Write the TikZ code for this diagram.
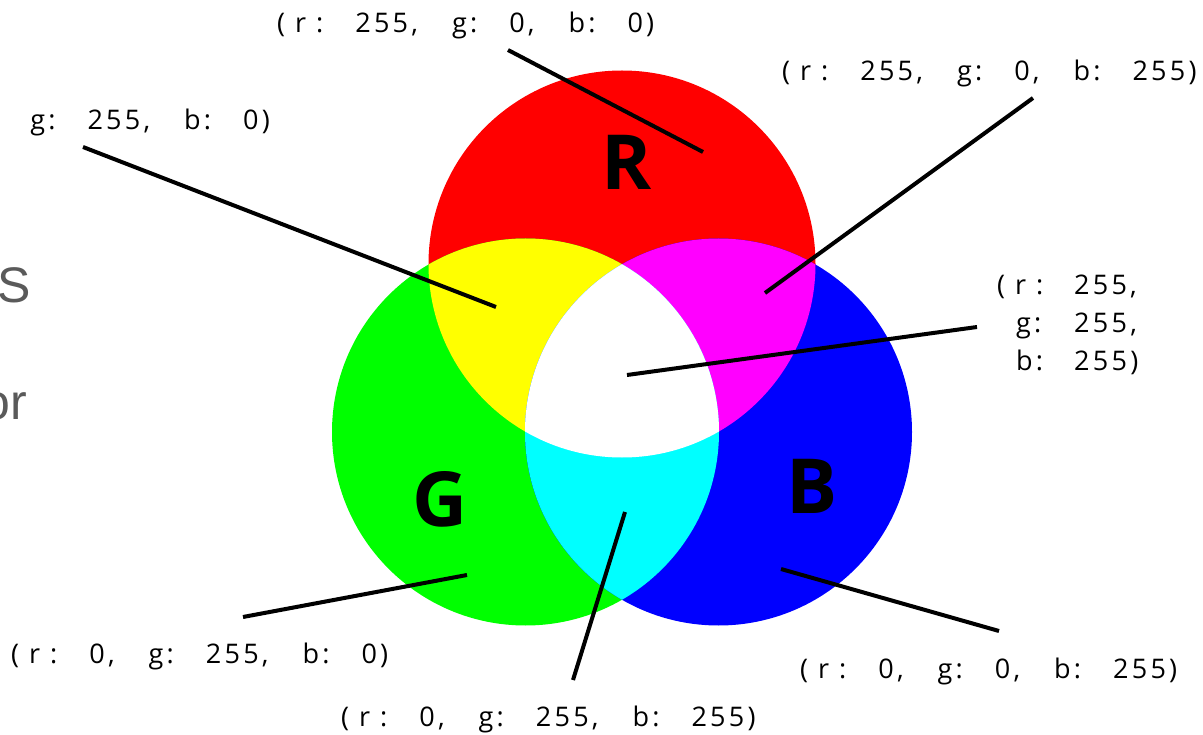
\documentclass[tikz,border=0pt]{standalone}
\usepackage{fontspec}
\setmainfont{Open Sans}
\newfontfamily\lblfont[LetterSpace=12]{Open Sans}
\newfontfamily\rgbfont{Open Sans}
\newfontfamily\slidefont{Liberation Sans}
\definecolor{slidegray}{HTML}{5A5A5A}
\definecolor{pR}{RGB}{255,0,0}
\definecolor{pG}{RGB}{0,255,0}
\definecolor{pB}{RGB}{0,0,255}
\definecolor{pY}{RGB}{255,255,0}
\definecolor{pM}{RGB}{255,0,255}
\definecolor{pC}{RGB}{0,255,255}
\definecolor{pW}{RGB}{255,255,255}
\newcommand{\rgbcg}{\hspace{32pt}}
\newcommand{\rgbmg}{\hspace{34pt}}
\newcommand{\rgbl}[3]{(\hspace{10pt}r\hspace{10pt}:\rgbcg #1,\rgbmg g:\rgbcg #2,\rgbmg b:\rgbcg #3)}
\tikzset{
  lbl/.style={font=\lblfont\fontsize{27pt}{38pt}\selectfont, inner sep=0pt, anchor=west, text=black},
  conn/.style={draw=black, line width=4pt},
  letter/.style={font=\rgbfont\bfseries\fontsize{76pt}{76pt}\selectfont, inner sep=0pt, text=black},
  slide/.style={font=\slidefont\fontsize{50pt}{50pt}\selectfont, inner sep=0pt, text=slidegray}
}
\begin{document}
\begin{tikzpicture}[x=1pt,y=-1pt]
\useasboundingbox (0,0) rectangle (1203,735);
\fill[pW] (0,0) rectangle (1203,735);
\coordinate (cR) at (622,264);
\coordinate (cG) at (525.5,432);
\coordinate (cB) at (718.5,432);
\def\rr{193.5pt}
% base circles
\fill[pR] (cR) circle[radius=\rr];
\fill[pG] (cG) circle[radius=\rr];
\fill[pB] (cB) circle[radius=\rr];
% overlaps
\begin{scope}
  \clip (cR) circle[radius=\rr];
  \fill[pY] (cG) circle[radius=\rr];
  \fill[pM] (cB) circle[radius=\rr];
\end{scope}
\begin{scope}
  \clip (cG) circle[radius=\rr];
  \fill[pC] (cB) circle[radius=\rr];
\end{scope}
\begin{scope}
  \clip (cR) circle[radius=\rr];
  \clip (cG) circle[radius=\rr];
  \fill[pW] (cB) circle[radius=\rr];
\end{scope}
% big letters
\node[letter] (tR) at (627,162) {R};
\node[letter] (tG) at (440,499) {G};
\node[letter] (tB) at (812,486) {B};
% slide fragments
\node[slide, anchor=base east] (s1) at (31,303) {S};
\node[slide, anchor=base east] (s2) at (27,420) {or};
% labels
\node[lbl] (lR) at (277,25) {\rgbl{255}{0}{0}};
\node[lbl] (lM) at (782,73) {\rgbl{255}{0}{255}};
\node[lbl, anchor=east] (lY) at (270,122) {\rgbl{255}{255}{0}};
\node[lbl, align=left] (lW) at (997,325) {\makebox[77pt][l]{(\hspace{10pt}r\hspace{10pt}:}255,\\\makebox[77pt][l]{\hspace{19pt}g:}255,\\\makebox[77pt][l]{\hspace{19pt}b:}255)};
\node[lbl] (lG) at (11,656) {\rgbl{0}{255}{0}};
\node[lbl] (lC) at (341,719) {\rgbl{0}{255}{255}};
\node[lbl] (lB) at (800,671) {\rgbl{0}{0}{255}};
% connector ends
\coordinate (aR) at (508,50);   \coordinate (bR) at (703,152);
\coordinate (aM) at (1033,98);  \coordinate (bM) at (765,293);
\coordinate (aY) at (83,147);   \coordinate (bY) at (496,307);
\coordinate (aW) at (977,327);  \coordinate (bW) at (627,375);
\coordinate (aG) at (243,617);  \coordinate (bG) at (467,575);
\coordinate (aC) at (573,680);  \coordinate (bC) at (625,512);
\coordinate (aB) at (999,631);  \coordinate (bB) at (781,569);
\draw[conn] (aR) -- (bR);
\draw[conn] (aM) -- (bM);
\draw[conn] (aY) -- (bY);
\draw[conn] (aW) -- (bW);
\draw[conn] (aG) -- (bG);
\draw[conn] (aC) -- (bC);
\draw[conn] (aB) -- (bB);
\end{tikzpicture}
\end{document}
